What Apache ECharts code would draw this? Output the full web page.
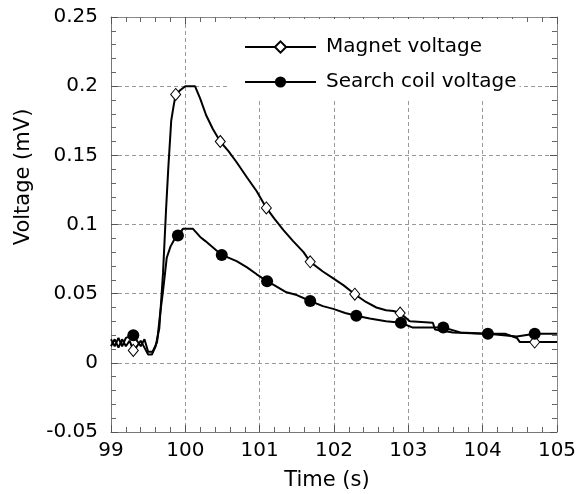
<!DOCTYPE html>
<html>
<head>
<meta charset="utf-8">
<script src="https://cdn.jsdelivr.net/npm/echarts@6/dist/echarts.min.js"></script>
<style>
html,body{margin:0;padding:0;background:#fff;}
#chart{width:587px;height:494px;}
</style>
</head>
<body>
<div id="chart"></div>
<script>
// ---- data ----
var xTicks = [99, 100, 101, 102, 103, 104, 105];
var yTicks = [-0.05, 0, 0.05, 0.1, 0.15, 0.2, 0.25];

var magnetName = 'Magnet voltage';
var magnetT = [99.0, 99.05, 99.1, 99.15, 99.2, 99.25, 99.3, 99.35, 99.4, 99.45, 99.5, 99.55, 99.6, 99.65, 99.7, 99.74, 99.77, 99.81, 99.84, 99.87, 99.93, 100.0, 100.13, 100.2, 100.28, 100.37, 100.47, 100.58, 100.69, 100.83, 100.96, 101.09, 101.2, 101.32, 101.45, 101.59, 101.68, 101.85, 101.99, 102.13, 102.28, 102.43, 102.57, 102.7, 102.8, 102.89, 103.02, 103.33, 103.36, 103.6, 104.0, 104.3, 104.46, 104.5, 104.7, 105.0];
var magnetV = [0.012, 0.017, 0.011, 0.017, 0.012, 0.016, 0.009, 0.012, 0.016, 0.011, 0.006, 0.006, 0.012, 0.025, 0.065, 0.11, 0.14, 0.175, 0.185, 0.194, 0.197, 0.2, 0.2, 0.191, 0.179, 0.169, 0.160, 0.153, 0.145, 0.134, 0.124, 0.112, 0.104, 0.096, 0.088, 0.080, 0.073, 0.066, 0.061, 0.056, 0.0496, 0.044, 0.040, 0.038, 0.0375, 0.036, 0.030, 0.029, 0.024, 0.022, 0.021, 0.021, 0.018, 0.015, 0.015, 0.015];
var magnetMarkerT = [99.3, 99.87, 100.47, 101.09, 101.68, 102.28, 102.89, 104.7];

var searchName = 'Search coil voltage';
var searchT = [99.0, 99.05, 99.1, 99.15, 99.2, 99.3, 99.35, 99.4, 99.45, 99.5, 99.56, 99.62, 99.66, 99.7, 99.75, 99.8, 99.85, 99.9, 99.97, 100.1, 100.2, 100.27, 100.38, 100.49, 100.69, 100.83, 100.96, 101.1, 101.2, 101.36, 101.5, 101.68, 101.85, 101.99, 102.15, 102.3, 102.48, 102.7, 102.9, 103.06, 103.47, 103.7, 104.07, 104.46, 104.7, 105.0];
var searchV = [0.017, 0.012, 0.018, 0.012, 0.018, 0.020, 0.016, 0.012, 0.017, 0.008, 0.008, 0.015, 0.035, 0.052, 0.076, 0.084, 0.089, 0.092, 0.097, 0.097, 0.091, 0.088, 0.083, 0.078, 0.0735, 0.069, 0.064, 0.059, 0.056, 0.051, 0.049, 0.0447, 0.041, 0.039, 0.036, 0.034, 0.032, 0.030, 0.029, 0.0255, 0.0255, 0.022, 0.021, 0.019, 0.021, 0.021];
var searchMarkerT = [99.3, 99.9, 100.49, 101.1, 101.68, 102.3, 102.9, 103.47, 104.07, 104.7];

var xTitle = 'Time (s)';
var yTitle = 'Voltage (mV)';

function buildData(ts, vs, markers) {
  return ts.map(function (t, i) {
    var item = { value: [t, vs[i]] };
    if (markers.indexOf(t) < 0) item.symbol = 'none';
    return item;
  });
}

var FONT = 'DejaVu Sans';
var chart = echarts.init(document.getElementById('chart'), null, { renderer: 'canvas' });
var fmt = function (v) { return String(+v.toFixed(2)); };

var option = {
  animation: false,
  backgroundColor: '#fff',
  grid: { left: 111, right: 30, top: 17, bottom: 62 },
  legend: {
    orient: 'vertical',
    left: 227, top: 19,
    backgroundColor: '#fff',
    padding: [18, 3, 9, 17],
    itemGap: 15,
    itemWidth: 71, itemHeight: 14,
    textStyle: { fontFamily: FONT, fontSize: 20, color: '#000', lineHeight: 20, padding: [0, 0, 0, 5] },
    data: [magnetName, searchName]
  },
  xAxis: [{
    type: 'value', min: xTicks[0], max: xTicks[xTicks.length - 1], interval: 1,
    axisLine: { show: true, onZero: false, lineStyle: { color: '#777', width: 1 } },
    axisTick: { inside: true, length: 7, lineStyle: { color: '#555' } },
    minorTick: { show: true, splitNumber: 5, length: 5, lineStyle: { color: '#666' } },
    splitLine: { show: true, lineStyle: { color: '#999', type: [4, 3], width: 1 } },
    axisLabel: { fontFamily: FONT, fontSize: 20, color: '#000', margin: 9 }
  }, {
    type: 'value', position: 'top', min: xTicks[0], max: xTicks[xTicks.length - 1], interval: 1,
    axisLine: { show: true, onZero: false, lineStyle: { color: '#888', width: 1 } },
    axisTick: { inside: true, length: 7, lineStyle: { color: '#555' } },
    minorTick: { show: true, splitNumber: 5, length: 5, lineStyle: { color: '#666' } },
    splitLine: { show: false }, axisLabel: { show: false }
  }],
  yAxis: [{
    type: 'value', min: yTicks[0], max: yTicks[yTicks.length - 1], interval: 0.05,
    axisLine: { show: true, onZero: false, lineStyle: { color: '#777', width: 1 } },
    axisTick: { inside: true, length: 7, lineStyle: { color: '#555' } },
    minorTick: { show: true, splitNumber: 5, length: 5, lineStyle: { color: '#666' } },
    splitLine: { show: true, lineStyle: { color: '#999', type: [4, 3], width: 1 } },
    axisLabel: { fontFamily: FONT, fontSize: 20, color: '#000', margin: 13, formatter: fmt }
  }, {
    type: 'value', position: 'right', min: yTicks[0], max: yTicks[yTicks.length - 1], interval: 0.05,
    axisLine: { show: true, onZero: false, lineStyle: { color: '#888', width: 1 } },
    axisTick: { inside: true, length: 7, lineStyle: { color: '#555' } },
    minorTick: { show: true, splitNumber: 5, length: 5, lineStyle: { color: '#666' } },
    splitLine: { show: false }, axisLabel: { show: false }
  }],
  graphic: [
    { type: 'text', style: { text: xTitle, font: '21px "DejaVu Sans"', fill: '#000', x: 327, y: 481, textAlign: 'center', textVerticalAlign: 'middle' } },
    { type: 'text', rotation: Math.PI / 2, x: 24, y: 177, style: { text: yTitle, font: '21px "DejaVu Sans"', fill: '#000', x: 0, y: 0, textAlign: 'center', textVerticalAlign: 'middle' } }
  ],
  series: [{
    name: magnetName, type: 'line',
    data: buildData(magnetT, magnetV, magnetMarkerT),
    symbol: 'diamond', symbolSize: [10, 12],
    lineStyle: { color: '#000', width: 2 },
    itemStyle: { color: '#fff', borderColor: '#000', borderWidth: 1 },
    z: 3
  }, {
    name: searchName, type: 'line',
    data: buildData(searchT, searchV, searchMarkerT),
    symbol: 'circle', symbolSize: 12,
    lineStyle: { color: '#000', width: 2 },
    itemStyle: { color: '#000', borderColor: '#000', borderWidth: 0 },
    z: 4
  }]
};
chart.setOption(option);
</script>
</body>
</html>
